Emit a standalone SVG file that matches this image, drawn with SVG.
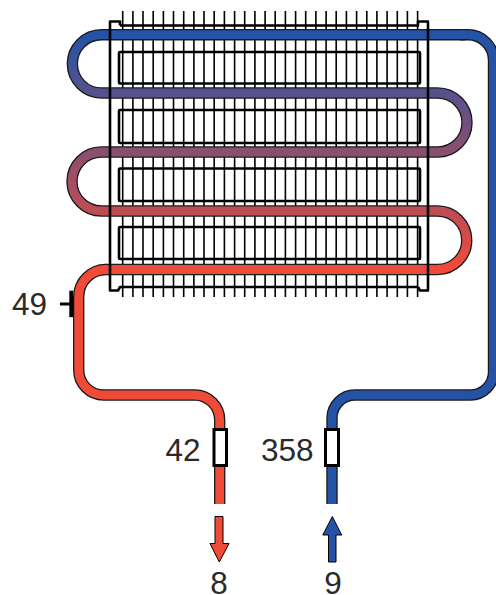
<svg xmlns="http://www.w3.org/2000/svg" width="496" height="595" viewBox="0 0 496 595">
<style>
.fin{stroke:#000;stroke-width:1.6;fill:none}
.fr{stroke:#000;stroke-width:2.6;fill:none;stroke-linejoin:round}
.pl{stroke:#000;stroke-width:2.6;fill:none}
.to{stroke:#1a1a1a;stroke-width:11.4;fill:none}
.ti{stroke-width:8.8;fill:none}
.col{fill:#fff;stroke:#000;stroke-width:3}
text{font-family:"Liberation Sans",Arial,sans-serif;font-size:31.500px;fill:#2b2a29}
.ar{stroke:#000;stroke-width:1}
</style>
<defs>
<linearGradient id="g" gradientUnits="userSpaceOnUse" x1="0" y1="34.7" x2="0" y2="269.5">
<stop offset="0" stop-color="#2453a6"/><stop offset="1" stop-color="#f04b38"/>
</linearGradient>
</defs>
<g id="fins">
<path class="fin" d="M122.7 11V297M132.9 11V297M143 11V297M153.2 11V297M163.4 11V297M173.5 11V297M183.7 11V297M193.9 11V297M204 11V297M214.2 11V297M224.4 11V297M234.6 11V297M244.7 11V297M254.9 11V297M265.1 11V297M275.2 11V297M285.4 11V297M295.6 11V297M305.7 11V297M315.9 11V297M326.1 11V297M336.2 11V297M346.4 11V297M356.6 11V297M366.8 11V297M376.9 11V297M387.1 11V297M397.3 11V297M407.4 11V297M417.6 11V297"/>
</g>
<g id="plates">
<rect class="pl" x="119" y="52" width="301" height="31.5" rx="1"/>
<rect class="pl" x="119" y="110" width="301" height="33" rx="1"/>
<rect class="pl" x="119" y="168.500" width="301" height="32.500" rx="1"/>
<rect class="pl" x="119" y="227" width="301" height="32" rx="1"/>
</g>
<g id="connectors">
<path id="serp-o" class="to" d="M465 34.700H101.500A29.150 29.150 0 0 0 101.500 93H437.500A29.500 29.500 0 0 1 437.500 152H101.500A29.500 29.500 0 0 0 101.500 211H437.500A29.250 29.250 0 0 1 437.500 269.500H105"/>
<path id="tail-o" class="to" d="M106 269.500A27.300 27.300 0 0 0 78.700 296.800V370A25 25 0 0 0 103.700 395H194.700A25 25 0 0 1 219.700 420V504"/>
<path id="inlet-o" class="to" d="M460 34.700H468A25.500 25.500 0 0 1 493.500 60.200V372A23 23 0 0 1 470.500 395H355A23 23 0 0 0 332 418V504"/>
<path id="inlet" class="ti" stroke="#2453a6" d="M460 34.700H468A25.500 25.500 0 0 1 493.500 60.200V372A23 23 0 0 1 470.500 395H355A23 23 0 0 0 332 418V504"/>
<path id="tail" class="ti" stroke="#f04b38" d="M106 269.500A27.300 27.300 0 0 0 78.700 296.800V370A25 25 0 0 0 103.700 395H194.700A25 25 0 0 1 219.700 420V504"/>
<path id="serp" class="ti" stroke="url(#g)" d="M465 34.700H101.500A29.150 29.150 0 0 0 101.500 93H437.500A29.500 29.500 0 0 1 437.500 152H101.500A29.500 29.500 0 0 0 101.500 211H437.500A29.250 29.250 0 0 1 437.500 269.500H105"/>
</g>
<g id="frame">
<path class="fr" d="M120 25.500V21.500H110V290.500H118L120 287H417M419 25.500H120M418 25.500V21.500H428V290.500H420L418 287"/>
</g>
<g id="sensor">
<path d="M60 304H70" stroke="#000" stroke-width="3" fill="none"/>
<rect x="69.300" y="290.700" width="4" height="26.500" fill="#000"/>
<text x="12" y="314.500">49</text>
</g>
<g id="collar-out">
<rect class="col" x="214" y="429.500" width="12.500" height="36"/>
<text x="165.500" y="461">42</text>
</g>
<g id="collar-in">
<rect class="col" x="325.500" y="429.500" width="13" height="36"/>
<text x="261" y="461">358</text>
</g>
<g id="arrow-out">
<path class="ar" fill="#f04b38" d="M215 516.500H223V543.500H229L219.300 562L210 543.500H215Z"/>
<text x="219" y="593.500" text-anchor="middle">8</text>
</g>
<g id="arrow-in">
<path class="ar" fill="#2453a6" d="M328.500 562H336V535H341.700L332.300 516.500L322.800 535H328.500Z"/>
<text x="333" y="593.500" text-anchor="middle">9</text>
</g>
</svg>
